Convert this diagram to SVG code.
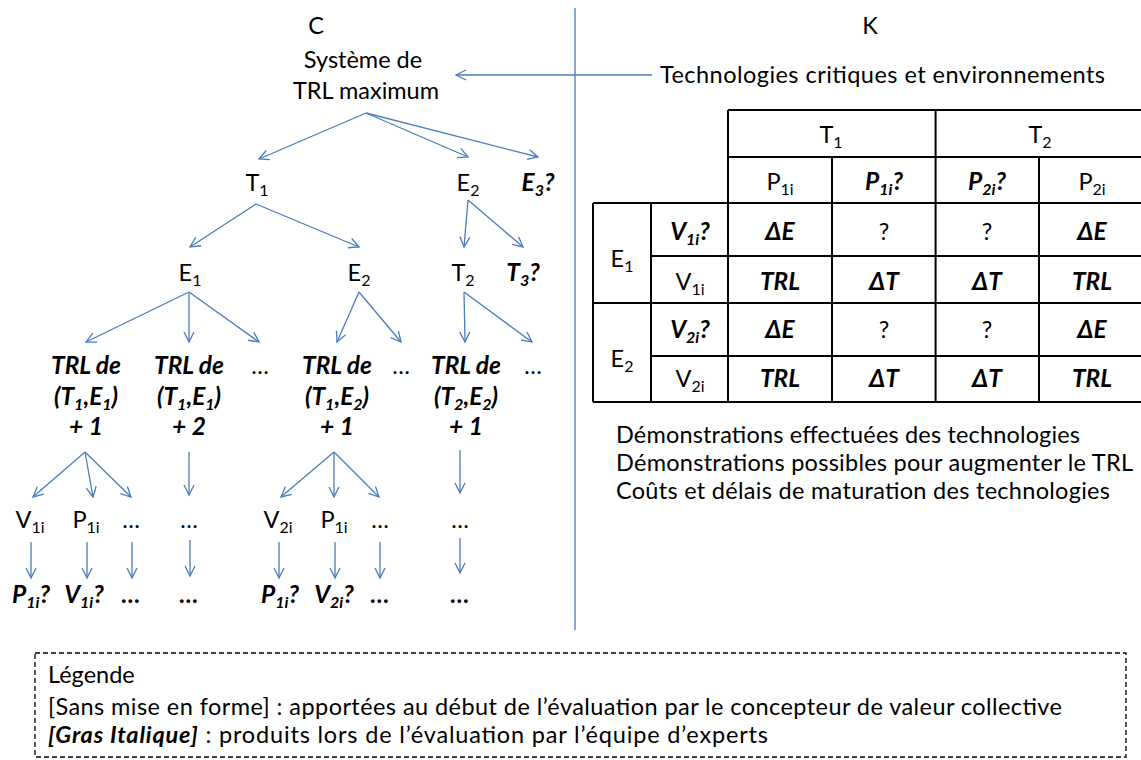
<svg xmlns="http://www.w3.org/2000/svg" width="1141" height="760" viewBox="0 0 1141 760">
<style>
text{font-family:Lato,"Open Sans","DejaVu Sans",sans-serif;font-size:23.5px;fill:#000}
.m{text-anchor:middle}
.bi{font-weight:bold;font-style:italic;font-size:24.5px}
.s{font-size:16px}
.conn line{stroke:#4A7EBB;stroke-width:1.3;fill:none}
.grid{stroke:#000;stroke-width:2;fill:none}
</style>
<defs>
<marker id="ah" markerUnits="userSpaceOnUse" markerWidth="14" markerHeight="14" refX="11" refY="6" orient="auto">
<path d="M1,1 L11,6 L1,11" fill="none" stroke="#4A7EBB" stroke-width="1.3"/>
</marker>
</defs>
<rect width="1141" height="760" fill="#fff"/>

<g id="divider"><line x1="575" y1="8" x2="575" y2="630" stroke="#4A7EBB" stroke-width="1.3"/></g>

<g id="headers">
<text class="m" x="316" y="34">C</text>
<text class="m" x="870" y="34">K</text>
</g>

<g id="root"><text class="m" x="363" y="68">Système de</text><text class="m" x="366" y="99">TRL maximum</text></g>
<g id="knowledge"><text x="660" y="83" textLength="445" lengthAdjust="spacing">Technologies critiques et environnements</text></g>

<g id="n-T1"><text class="m" x="257" y="191">T<tspan class="s" dy="5">1</tspan></text></g>
<g id="n-E2a"><text class="m" x="468" y="191">E<tspan class="s" dy="5">2</tspan></text></g>
<g id="n-E3"><text class="m bi" x="538" y="191">E<tspan class="s" dy="5">3</tspan><tspan dy="-5">?</tspan></text></g>
<g id="n-E1"><text class="m" x="190" y="281">E<tspan class="s" dy="5">1</tspan></text></g>
<g id="n-E2b"><text class="m" x="359" y="281">E<tspan class="s" dy="5">2</tspan></text></g>
<g id="n-T2"><text class="m" x="463" y="281">T<tspan class="s" dy="5">2</tspan></text></g>
<g id="n-T3"><text class="m bi" x="523" y="281">T<tspan class="s" dy="5">3</tspan><tspan dy="-5">?</tspan></text></g>

<g id="n-trl11">
<text class="m bi" x="86" y="374">TRL de</text>
<text class="m bi" x="86" y="405">(T<tspan class="s" dy="5">1</tspan><tspan dy="-5">,E</tspan><tspan class="s" dy="5">1</tspan><tspan dy="-5">)</tspan></text>
<text class="m bi" x="86" y="435">+ 1</text>
</g>
<g id="n-trl12">
<text class="m bi" x="189" y="374">TRL de</text>
<text class="m bi" x="189" y="405">(T<tspan class="s" dy="5">1</tspan><tspan dy="-5">,E</tspan><tspan class="s" dy="5">1</tspan><tspan dy="-5">)</tspan></text>
<text class="m bi" x="189" y="435">+ 2</text>
</g>
<g id="n-dots1"><text class="m" x="260" y="374">…</text></g>
<g id="n-trl21">
<text class="m bi" x="337" y="374">TRL de</text>
<text class="m bi" x="337" y="405">(T<tspan class="s" dy="5">1</tspan><tspan dy="-5">,E</tspan><tspan class="s" dy="5">2</tspan><tspan dy="-5">)</tspan></text>
<text class="m bi" x="337" y="435">+ 1</text>
</g>
<g id="n-dots2"><text class="m" x="401" y="374">…</text></g>
<g id="n-trl22">
<text class="m bi" x="466" y="374">TRL de</text>
<text class="m bi" x="466" y="405">(T<tspan class="s" dy="5">2</tspan><tspan dy="-5">,E</tspan><tspan class="s" dy="5">2</tspan><tspan dy="-5">)</tspan></text>
<text class="m bi" x="466" y="435">+ 1</text>
</g>
<g id="n-dots3"><text class="m" x="533" y="374">…</text></g>

<g id="row-v">
<text class="m" x="30" y="528">V<tspan class="s" dy="5">1i</tspan></text>
<text class="m" x="86" y="528">P<tspan class="s" dy="5">1i</tspan></text>
<text class="m" x="131" y="528">…</text>
<text class="m" x="189" y="528">…</text>
<text class="m" x="278" y="528">V<tspan class="s" dy="5">2i</tspan></text>
<text class="m" x="334" y="528">P<tspan class="s" dy="5">1i</tspan></text>
<text class="m" x="380" y="528">…</text>
<text class="m" x="460" y="528">…</text>
</g>
<g id="row-q">
<text class="m bi" x="31" y="603">P<tspan class="s" dy="5">1i</tspan><tspan dy="-5">?</tspan></text>
<text class="m bi" x="84" y="603">V<tspan class="s" dy="5">1i</tspan><tspan dy="-5">?</tspan></text>
<text class="m bi" x="131" y="603">…</text>
<text class="m bi" x="189" y="603">…</text>
<text class="m bi" x="280" y="603">P<tspan class="s" dy="5">1i</tspan><tspan dy="-5">?</tspan></text>
<text class="m bi" x="334" y="603">V<tspan class="s" dy="5">2i</tspan><tspan dy="-5">?</tspan></text>
<text class="m bi" x="380" y="603">…</text>
<text class="m bi" x="460" y="603">…</text>
</g>

<g id="connectors" class="conn">
<line x1="652" y1="75" x2="456" y2="75" marker-end="url(#ah)"/>
<line x1="366" y1="113" x2="259" y2="159" marker-end="url(#ah)"/>
<line x1="366" y1="113" x2="468" y2="157" marker-end="url(#ah)"/>
<line x1="366" y1="113" x2="538" y2="157" marker-end="url(#ah)"/>
<line x1="256" y1="204" x2="190" y2="247" marker-end="url(#ah)"/>
<line x1="256" y1="204" x2="359" y2="247" marker-end="url(#ah)"/>
<line x1="468" y1="200" x2="464" y2="247" marker-end="url(#ah)"/>
<line x1="468" y1="200" x2="523" y2="247" marker-end="url(#ah)"/>
<line x1="189" y1="292" x2="86" y2="342" marker-end="url(#ah)"/>
<line x1="189" y1="292" x2="189" y2="342" marker-end="url(#ah)"/>
<line x1="189" y1="292" x2="259" y2="342" marker-end="url(#ah)"/>
<line x1="359" y1="292" x2="337" y2="342" marker-end="url(#ah)"/>
<line x1="359" y1="292" x2="401" y2="342" marker-end="url(#ah)"/>
<line x1="464" y1="292" x2="465" y2="342" marker-end="url(#ah)"/>
<line x1="464" y1="292" x2="532" y2="342" marker-end="url(#ah)"/>
<line x1="85" y1="452" x2="33" y2="497" marker-end="url(#ah)"/>
<line x1="85" y1="452" x2="93" y2="497" marker-end="url(#ah)"/>
<line x1="85" y1="452" x2="131" y2="497" marker-end="url(#ah)"/>
<line x1="189" y1="452" x2="189" y2="495" marker-end="url(#ah)"/>
<line x1="334" y1="452" x2="281" y2="497" marker-end="url(#ah)"/>
<line x1="334" y1="452" x2="334" y2="497" marker-end="url(#ah)"/>
<line x1="334" y1="452" x2="379" y2="497" marker-end="url(#ah)"/>
<line x1="460" y1="450" x2="460" y2="493" marker-end="url(#ah)"/>
<line x1="31" y1="542" x2="31" y2="578" marker-end="url(#ah)"/>
<line x1="87" y1="542" x2="87" y2="578" marker-end="url(#ah)"/>
<line x1="132" y1="542" x2="132" y2="578" marker-end="url(#ah)"/>
<line x1="190" y1="540" x2="190" y2="576" marker-end="url(#ah)"/>
<line x1="279" y1="542" x2="279" y2="578" marker-end="url(#ah)"/>
<line x1="335" y1="542" x2="335" y2="578" marker-end="url(#ah)"/>
<line x1="380" y1="542" x2="380" y2="578" marker-end="url(#ah)"/>
<line x1="460" y1="538" x2="460" y2="573" marker-end="url(#ah)"/>
</g>

<g id="table">
<path class="grid" d="M728,110 H1146 M728,157 H1146 M593,203 H1146 M651,256 H1146 M593,303 H1146 M651,356 H1146 M593,402 H1146 M593,203 V402 M651,203 V402 M728,110 V402 M832,157 V402 M935.6,110 V402 M1039,157 V402"/>
<text class="m" x="831" y="143">T<tspan class="s" dy="5">1</tspan></text>
<text class="m" x="1040" y="143">T<tspan class="s" dy="5">2</tspan></text>
<text class="m" x="780" y="190">P<tspan class="s" dy="5">1i</tspan></text>
<text class="m bi" x="884" y="190">P<tspan class="s" dy="5">1i</tspan><tspan dy="-5">?</tspan></text>
<text class="m bi" x="987" y="190">P<tspan class="s" dy="5">2i</tspan><tspan dy="-5">?</tspan></text>
<text class="m" x="1092" y="190">P<tspan class="s" dy="5">2i</tspan></text>
<text class="m" x="622" y="267">E<tspan class="s" dy="5">1</tspan></text>
<text class="m" x="622" y="367">E<tspan class="s" dy="5">2</tspan></text>
<text class="m bi" x="690" y="240">V<tspan class="s" dy="5">1i</tspan><tspan dy="-5">?</tspan></text>
<text class="m" x="690" y="290">V<tspan class="s" dy="5">1i</tspan></text>
<text class="m bi" x="690" y="338">V<tspan class="s" dy="5">2i</tspan><tspan dy="-5">?</tspan></text>
<text class="m" x="690" y="387">V<tspan class="s" dy="5">2i</tspan></text>
<text class="m bi" x="780" y="240">ΔE</text>
<text class="m" x="884" y="240">?</text>
<text class="m" x="987" y="240">?</text>
<text class="m bi" x="1092" y="240">ΔE</text>
<text class="m bi" x="780" y="290">TRL</text>
<text class="m bi" x="884" y="290">ΔT</text>
<text class="m bi" x="987" y="290">ΔT</text>
<text class="m bi" x="1092" y="290">TRL</text>
<text class="m bi" x="780" y="338">ΔE</text>
<text class="m" x="884" y="338">?</text>
<text class="m" x="987" y="338">?</text>
<text class="m bi" x="1092" y="338">ΔE</text>
<text class="m bi" x="780" y="387">TRL</text>
<text class="m bi" x="884" y="387">ΔT</text>
<text class="m bi" x="987" y="387">ΔT</text>
<text class="m bi" x="1092" y="387">TRL</text>
</g>

<g id="info">
<text x="616" y="443" textLength="464" lengthAdjust="spacing">Démonstrations effectuées des technologies</text>
<text x="616" y="471" textLength="517" lengthAdjust="spacing">Démonstrations possibles pour augmenter le TRL</text>
<text x="616" y="499" textLength="494" lengthAdjust="spacing">Coûts et délais de maturation des technologies</text>
</g>

<g id="legend">
<rect x="35" y="653" width="1091" height="104" fill="none" stroke="#000" stroke-width="1.3" stroke-dasharray="5 3"/>
<text x="48" y="683">Légende</text>
<text x="48" y="715" textLength="1014" lengthAdjust="spacing">[Sans mise en forme] : apportées au début de l’évaluation par le concepteur de valeur collective</text>
<text x="48" y="743" textLength="720" lengthAdjust="spacing"><tspan class="bi" style="font-size:23.5px">[Gras Italique]</tspan> : produits lors de l’évaluation par l’équipe d’experts</text>
</g>
</svg>
